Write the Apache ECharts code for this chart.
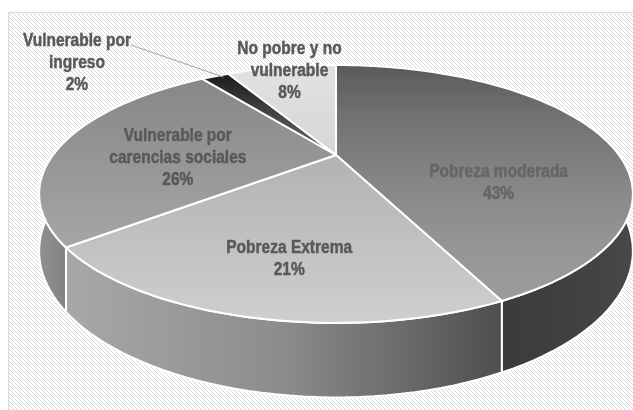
<!DOCTYPE html>
<html lang="es">
<head>
<meta charset="UTF-8">
<title>Pobreza y vulnerabilidad</title>
<script src="https://cdn.jsdelivr.net/npm/echarts@6/dist/echarts.min.js"></script>
<style>
  html, body { margin: 0; padding: 0; background: #fff; }
  #main { width: 633px; height: 410px; }
</style>
</head>
<body>
<div id="main"></div>
<script>
// datos (porcentajes, sentido horario desde las 12)
var categorias = ['Pobreza moderada', 'Pobreza Extrema', 'Vulnerable por carencias sociales', 'Vulnerable por ingreso', 'No pobre y no vulnerable'];
var porcentajes = [43, 21, 26, 2, 8];
var etiquetas = ['Pobreza moderada', 'Pobreza Extrema', 'Vulnerable por\ncarencias sociales', 'Vulnerable por\ningreso', 'No pobre y no\nvulnerable'];

// colores de la cara superior (de arriba a abajo) y del lateral (izq, centro, der)
var coloresCara = [['#5a5a5a', '#747474', '#868686', '#959595', '#9c9c9c'], ['#b2b2b2', '#cfcfcf'], ['#878787', '#a6a6a6'], ['#1b1b1b', '#6e6e6e'], ['#e2e2e2', '#d6d6d6']];
var coloresLado = [['#3b3b3b', '#404040', '#484848'], ['#a8a8a8', '#8c8c8c', '#4e4e4e'], ['#909090', '#8a8a8a', '#828282'], ['#333', '#333', '#333'], ['#ccc', '#ccc', '#ccc']];
// posicion de la etiqueta: radio relativo y giro respecto al angulo medio
var posEtiqueta = [[0.58, 35], [0.71, -2], [0.555, -10], [1.58, -17], [0.94, 1.5]];

// proyeccion en perspectiva del disco
var CX = 336, CY = 155, A = 283, B = 117.2, K = 0.302, H = 52;
function proj(r, phi, z) {
    var a = phi * Math.PI / 180;
    var u = r * Math.sin(a), v = -r * Math.cos(a);
    var w = 1 - K * v;
    return [CX + A * u / w, CY + (B * v + H * z) / w];
}

var total = porcentajes.reduce(function (s, x) { return s + x; }, 0);
var inicio = [];
var acum = 0;
porcentajes.forEach(function (p) { inicio.push(acum / total * 360); acum += p; });

// fondo rayado
var rayas = document.createElement('canvas');
rayas.width = 4; rayas.height = 4;
var g = rayas.getContext('2d');
g.fillStyle = '#ffffff'; g.fillRect(0, 0, 4, 4);
g.fillStyle = '#d8d8d8';
for (var i = 0; i < 4; i++) g.fillRect(i, i, 1, 1);

var myChart = echarts.init(document.getElementById('main'));

// letra estrecha: Liberation Sans negrita comprimida en horizontal
var ESTRECHO = 0.83;

function paradas(cols) {
    return cols.map(function (c, j) { return { offset: j / (cols.length - 1), color: c }; });
}

function renderItem(params, api) {
    var i = params.dataIndex;
    var s = inicio[i];
    var e = s + api.value(0) / total * 360;
    var children = [];

    // lateral (solo la parte delantera)
    var ls = Math.max(s, 95), le = Math.min(e, 265);
    if (ls < le) {
        var arriba = [], abajo = [];
        var n = Math.max(4, Math.ceil((le - ls) / 2));
        for (var j = 0; j <= n; j++) {
            var f = ls + (le - ls) * j / n;
            arriba.push(proj(1, f, 0));
            abajo.unshift(proj(1, f, 1));
        }
        children.push({
            type: 'polygon',
            z2: 1,
            shape: { points: arriba.concat(abajo) },
            style: {
                fill: { type: 'linear', x: 0, y: 0, x2: 1, y2: 0, colorStops: paradas(coloresLado[i]) },
                stroke: '#ffffff', lineWidth: 2, lineJoin: 'round'
            }
        });
    }

    // cara superior
    var pts = [proj(0, 0, 0)];
    var m = Math.max(4, Math.ceil((e - s) / 2));
    for (var k = 0; k <= m; k++) pts.push(proj(1, s + (e - s) * k / m, 0));
    children.push({
        type: 'polygon',
        z2: 10,
        shape: { points: pts },
        style: {
            fill: { type: 'linear', x: 0, y: 0, x2: 0, y2: 1, colorStops: paradas(coloresCara[i]) },
            stroke: '#ffffff', lineWidth: 2, lineJoin: 'round'
        }
    });

    // etiqueta
    var medio = (s + e) / 2;
    var pe = posEtiqueta[i];
    var c = proj(pe[0], medio + pe[1], 0);
    var colorTexto = i === 0 ? '#656565' : '#595959';
    children.push({
        type: 'text',
        z2: 20,
        x: c[0], y: c[1],
        scaleX: ESTRECHO,
        style: {
            text: etiquetas[i] + '\n' + api.value(0) + '%',
            x: 0, y: 0,
            align: 'center', verticalAlign: 'middle',
            fontFamily: '"Liberation Sans", Arial, sans-serif',
            fontWeight: 'bold', fontSize: 18.7, lineHeight: 22,
            fill: colorTexto, stroke: colorTexto, lineWidth: 0.5
        }
    });

    // linea guia para etiquetas fuera del disco
    if (pe[0] > 1) {
        var fin = proj(0.97, medio + 1.5, 0);
        children.push({
            type: 'line',
            z2: 15,
            shape: { x1: c[0] + 54, y1: c[1] - 18, x2: fin[0], y2: fin[1] },
            style: { stroke: '#a6a6a6', lineWidth: 1 }
        });
    }

    return { type: 'group', children: children };
}

myChart.setOption({
    animation: false,
    graphic: [{
        type: 'rect',
        z: -10,
        shape: { x: 8.5, y: 12.5, width: 640, height: 410 },
        style: { fill: { image: rayas, repeat: 'repeat' }, stroke: '#d9d9d9', lineWidth: 1 }
    }],
    series: [{
        type: 'custom',
        name: 'Poblacion',
        coordinateSystem: 'none',
        data: porcentajes.map(function (v, i) { return { name: categorias[i], value: v }; }),
        renderItem: renderItem
    }]
});
</script>
</body>
</html>
